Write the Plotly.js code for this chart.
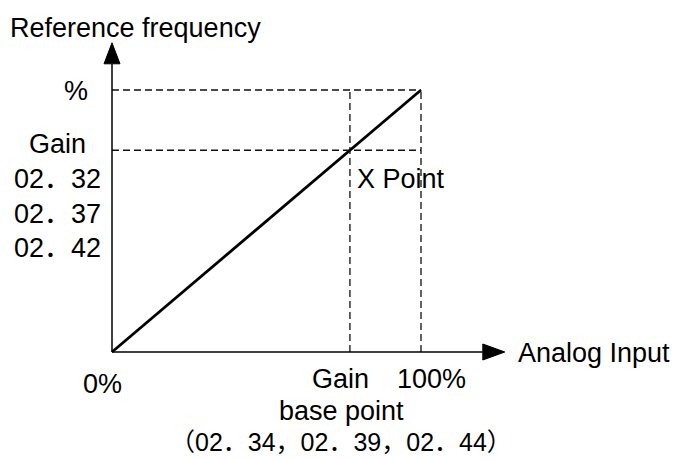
<!DOCTYPE html>
<html>
<head>
<meta charset="utf-8">
<script src="https://cdn.plot.ly/plotly-3.0.1.min.js"></script>
<style>html,body{margin:0;padding:0;background:#fff;}#chart{width:675px;height:459px;}</style>
</head>
<body>
<div id="chart"></div>
<script>
// ---- data ----
const inputPct = [0, 100];          // analog input (%)
const outputPct = [0, 100];         // reference frequency (%)
const gainBaseInput = 77;           // gain base point (x)
const gainOutput = 77;              // gain (y)
const xAxisEnd = 120;               // x axis line end (data units)
const yAxisEnd = 110;               // y axis line end (data units)

const yTopLabel = '%';
const yGainLabels = ['Gain', '02．32', '02．37', '02．42'];
const xLabelZero = '0%';
const xLabelGain = 'Gain';
const xLabelFull = '100%';
const xBaseLines = ['base point', '（02．34，02．39，02．44）'];
const yTitle = 'Reference frequency';
const xTitle = 'Analog Input';
const pointLabel = 'X Point';

// ---- layout geometry ----
const X0 = 112, Y0 = 352, SX = 3.09, SY = 2.62;
const L = 90, R = 150, T = 30, B = 90, W = 675, H = 459;
const px2x = p => (p - X0) / SX;
const px2y = p => (Y0 - p) / SY;
const px2paperX = p => (p - L) / (W - L - R);
const px2paperY = p => (H - B - p) / (H - T - B);

const FONT = '"Liberation Sans", Arial, "Noto Sans CJK SC", sans-serif';
const f = (s) => ({family: FONT, size: s || 27, color: '#000'});

const dash = {color: '#111', width: 1.3, dash: '7px,4px'};
const xr = inputPct[inputPct.length - 1];
const yr = outputPct[outputPct.length - 1];

const shapes = [
  // dashed guides
  {type: 'line', xref: 'x', yref: 'y', x0: 0, x1: xr, y0: yr, y1: yr, line: dash},
  {type: 'line', xref: 'x', yref: 'y', x0: 0, x1: xr, y0: gainOutput, y1: gainOutput, line: dash},
  {type: 'line', xref: 'x', yref: 'y', x0: gainBaseInput, x1: gainBaseInput, y0: 0, y1: yr, line: dash},
  {type: 'line', xref: 'x', yref: 'y', x0: xr, x1: xr, y0: 0, y1: yr, line: dash},
  // axes
  {type: 'line', xref: 'x', yref: 'y', x0: 0, x1: xAxisEnd, y0: 0, y1: 0, line: {color: '#000', width: 1.5}},
  {type: 'line', xref: 'x', yref: 'y', x0: 0, x1: 0, y0: 0, y1: yAxisEnd, line: {color: '#000', width: 1.5}},
  // arrow heads
  {type: 'path', xref: 'x', yref: 'y', xsizemode: 'pixel', ysizemode: 'pixel',
   xanchor: xAxisEnd, yanchor: 0, path: 'M0,8 L22,0 L0,-8 Z',
   fillcolor: '#000', line: {color: '#000', width: 1}},
  {type: 'path', xref: 'x', yref: 'y', xsizemode: 'pixel', ysizemode: 'pixel',
   xanchor: 0, yanchor: yAxisEnd, path: 'M-8,0 L0,21 L8,0 Z',
   fillcolor: '#000', line: {color: '#000', width: 1}}
];

const ann = (text, px, py, xanchor, size) => ({
  text, x: px2paperX(px), y: px2paperY(py), xref: 'paper', yref: 'paper',
  xanchor: xanchor || 'center', yanchor: 'middle', showarrow: false, font: f(size)
});

const annotations = [
  ann(yTitle, 8, 28, 'left'),
  ann(yTopLabel, 90, 91, 'right'),
  ann(yGainLabels[0], 57, 143.5),
  ann(yGainLabels[1], 57, 178.5),
  ann(yGainLabels[2], 57, 213.5),
  ann(yGainLabels[3], 57, 248.5),
  ann(pointLabel, 355, 179, 'left'),
  ann(xTitle, 516, 353, 'left'),
  ann(xLabelZero, 102, 384),
  ann(xLabelGain, 340, 379),
  ann(xLabelFull, 431, 379),
  ann(xBaseLines[0], 341, 411),
  ann(xBaseLines[1], 341, 442, 'center', 25)
];

const trace = {
  x: inputPct, y: outputPct, type: 'scatter', mode: 'lines',
  line: {color: '#000', width: 2.8}, hoverinfo: 'skip', cliponaxis: false
};

const layout = {
  width: W, height: H,
  margin: {l: L, r: R, t: T, b: B, pad: 0},
  paper_bgcolor: '#fff', plot_bgcolor: '#fff',
  showlegend: false,
  xaxis: {range: [px2x(L), px2x(W - R)], showgrid: false, zeroline: false,
          showticklabels: false, showline: false, ticks: '', fixedrange: true},
  yaxis: {range: [px2y(H - B), px2y(T)], showgrid: false, zeroline: false,
          showticklabels: false, showline: false, ticks: '', fixedrange: true},
  shapes, annotations
};

Plotly.newPlot('chart', [trace], layout, {displayModeBar: false, staticPlot: true});
</script>
</body>
</html>
